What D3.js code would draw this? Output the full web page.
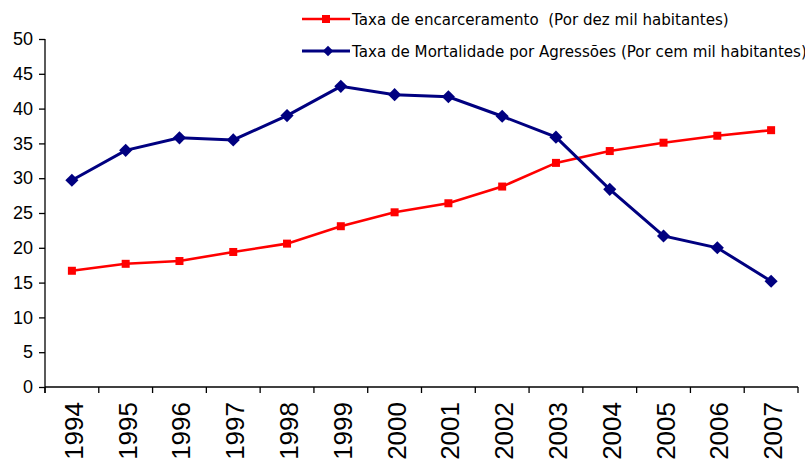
<!DOCTYPE html>
<html lang="pt">
  <head>
    <meta charset="utf-8">
    <title>Taxa de encarceramento e mortalidade</title>
    <style>
      body { margin: 0; background: #fff; }
      svg { display: block; font-family: "Liberation Sans", Arial, sans-serif; }
      .axis path, .axis line { stroke: #000; stroke-width: 1.3; }
      .axis text { fill: #000; }
      .legend text { font-family: "DejaVu Sans", Verdana, sans-serif; white-space: pre; }
    </style>
  </head>
  <body>
    <div id="chart"></div>
    <script src="https://cdn.jsdelivr.net/npm/d3@7"></script>
    <script>
      var years = ["1994", "1995", "1996", "1997", "1998", "1999", "2000",
                   "2001", "2002", "2003", "2004", "2005", "2006", "2007"];
      var encarceramento = [16.7, 17.7, 18.1, 19.4, 20.6, 23.1, 25.1,
                            26.4, 28.8, 32.2, 33.9, 35.1, 36.1, 36.9];
      var mortalidade = [29.7, 34.0, 35.8, 35.5, 39.0, 43.2, 42.0,
                         41.7, 38.9, 35.9, 28.4, 21.7, 20.0, 15.2];
      var yTicks = [0, 5, 10, 15, 20, 25, 30, 35, 40, 45, 50];
      var seriesNames = ["Taxa de encarceramento  (Por dez mil habitantes)",
                         "Taxa de Mortalidade por Agressões (Por cem mil habitantes)"];

      var width = 805, height = 459;
      var margin = {top: 39, right: 7, bottom: 72, left: 45};
      var w = width - margin.left - margin.right,
          h = height - margin.top - margin.bottom;

      var svg = d3.select("#chart").append("svg")
          .attr("width", width)
          .attr("height", height);

      var g = svg.append("g")
          .attr("transform", "translate(" + margin.left + "," + margin.top + ")");

      var x = d3.scaleBand().domain(years).range([0, w]);
      var y = d3.scaleLinear().domain([0, 50]).range([h, 0]);

      // y axis
      var yAxis = g.append("g").attr("class", "axis")
          .call(d3.axisLeft(y).tickValues(yTicks).tickSize(6).tickSizeOuter(0).tickPadding(6));
      yAxis.select(".domain").attr("d", "M0,0V" + (h + 6));
      yAxis.selectAll("text").style("font-size", "18px");

      // x axis: ticks at band boundaries
      var xa = g.append("g").attr("class", "axis")
          .attr("transform", "translate(0," + h + ")");
      xa.append("path").attr("d", "M0,0H" + w).attr("stroke", "#000").attr("stroke-width", 1.3);
      xa.selectAll("line.tk").data(years.concat(["end"])).enter().append("line")
          .attr("class", "tk")
          .attr("x1", function(d, i) { return i * x.step(); })
          .attr("x2", function(d, i) { return i * x.step(); })
          .attr("y1", 0).attr("y2", 6);
      xa.selectAll("text.lbl").data(years).enter().append("text")
          .attr("class", "lbl")
          .attr("transform", function(d) {
            return "translate(" + (x(d) + x.bandwidth() / 2 + 11) + ",15) rotate(-90)";
          })
          .attr("text-anchor", "end")
          .style("font-size", "26px")
          .text(function(d) { return d; });

      var line = d3.line()
          .x(function(d, i) { return x(years[i]) + x.bandwidth() / 2; })
          .y(function(d) { return y(d); });

      // red series
      g.append("path").datum(encarceramento)
          .attr("d", line)
          .attr("fill", "none").attr("stroke", "#ff0000").attr("stroke-width", 2.6);
      g.selectAll(".sq").data(encarceramento).enter().append("rect")
          .attr("class", "sq")
          .attr("x", function(d, i) { return x(years[i]) + x.bandwidth() / 2 - 4; })
          .attr("y", function(d) { return y(d) - 4; })
          .attr("width", 8).attr("height", 8)
          .attr("fill", "#ff0000");

      // blue series
      var diamond = d3.symbol().type(d3.symbolDiamond2).size(110);
      g.append("path").datum(mortalidade)
          .attr("d", line)
          .attr("fill", "none").attr("stroke", "#000080").attr("stroke-width", 3);
      g.selectAll(".dm").data(mortalidade).enter().append("path")
          .attr("class", "dm")
          .attr("d", diamond)
          .attr("transform", function(d, i) {
            return "translate(" + (x(years[i]) + x.bandwidth() / 2) + "," + y(d) + ")";
          })
          .attr("fill", "#000080");

      // legend
      var legend = svg.append("g").attr("class", "legend").attr("transform", "translate(302,0)");
      var rows = [{color: "#ff0000", y: 19, mark: "sq"}, {color: "#000080", y: 51, mark: "dm"}];
      rows.forEach(function(r, i) {
        legend.append("line")
            .attr("x1", 0).attr("x2", 48).attr("y1", r.y).attr("y2", r.y)
            .attr("stroke", r.color).attr("stroke-width", i ? 3 : 2.6);
        if (r.mark === "sq") {
          legend.append("rect").attr("x", 20).attr("y", r.y - 4)
              .attr("width", 8).attr("height", 8).attr("fill", r.color);
        } else {
          legend.append("path").attr("d", d3.symbol().type(d3.symbolDiamond2).size(70))
              .attr("transform", "translate(26," + r.y + ")").attr("fill", r.color);
        }
        legend.append("text")
            .attr("x", 50).attr("y", r.y + 6)
            .style("font-size", "15.1px")
            .text(seriesNames[i]);
      });
    </script>
  </body>
</html>
